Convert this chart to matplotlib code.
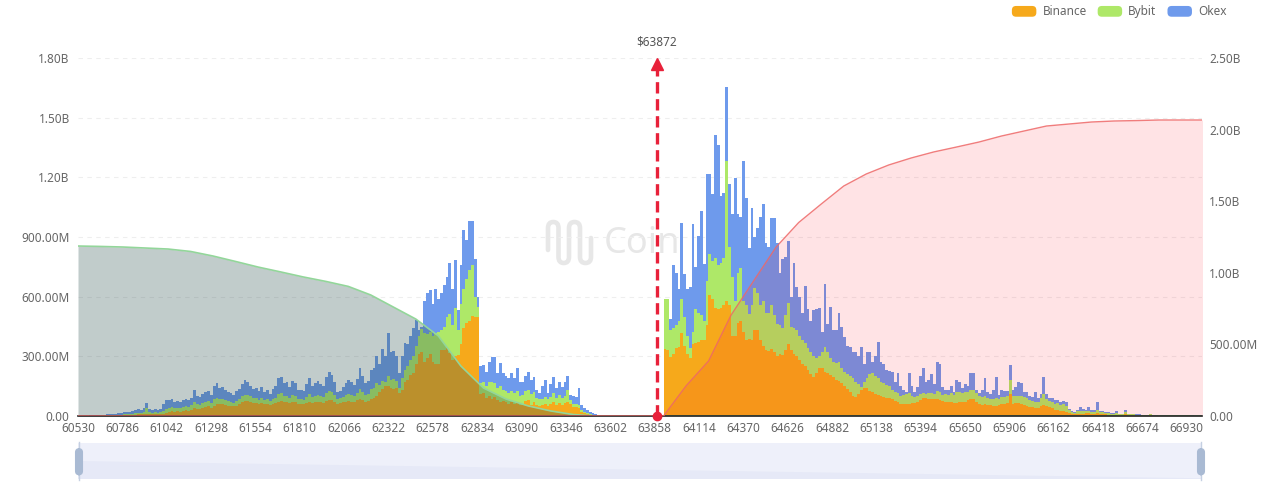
import numpy as np
import matplotlib
matplotlib.use("Agg")
import matplotlib.pyplot as plt
from matplotlib.patches import FancyBboxPatch, PathPatch, Rectangle
from matplotlib.path import Path
from matplotlib.legend_handler import HandlerPatch

plt.rcParams['font.family'] = ['Noto Sans', 'DejaVu Sans']

# Stack levels in millions (top of each colour)
left_binance = [
 0,0,0,0,0,1,1,1,1,1, 1,2,2,2,3,3,4,4,5,6, 7,8,8,9,12,9,9,10,10,10,
 12,16,20,24,22,24,22,26,28,26, 32,40,36,34,40,44,48,42,52,58,
 58,60,56,52,50,48,52,58,70,75, 75,72,66,66,60,66,60,62,56,60,
 64,72,76,70,70,64,72,70,62,60, 58,64,70,66,68,72,70,66,76,82,
 80,72,62,64,68,72,76,72,70,78, 85,78,72,74,85,90,100,120,135,150,
 150,140,135,140,115,130,170,180,205,215, 260,310,320,270,290,310,270,260,260,330,
 330,340,315,280,300,305,360,440,470,480, 505,500,500,
 110,115,90,100,85,95,80,70,75,70, 60,70,60,70,55,55,75,80,55,70,
 55,50,55,60,50,60,70,55,65,55, 65,70,60,45,45,40,20,15,8,4, 2,1]
left_bybit = [
 0,0,1,1,1,2,2,2,3,3, 3,4,5,5,6,7,8,9,10,12, 14,16,15,18,40,18,16,18,16,18,
 25,35,40,45,40,42,40,45,50,45, 55,70,60,55,65,70,75,65,85,90,
 85,85,80,75,70,65,75,85,100,105, 105,100,90,90,80,90,80,85,75,85,
 90,110,115,100,100,90,105,100,85,85, 80,95,110,95,100,105,100,95,115,125,
 120,105,85,90,95,105,110,105,100,115, 135,120,105,110,135,140,165,155,175,170,
 200,180,185,175,140,190,230,250,280,300, 350,400,435,415,410,420,400,415,420,430,
 450,500,515,460,545,430,565,640,690,735, 760,600,550,
 165,170,150,170,170,165,140,150,130,125, 115,125,115,125,100,105,125,130,110,120,
 90,85,85,95,85,95,115,90,105,90, 100,130,80,60,60,55,30,20,15,8, 5,2]
left_okex = [
 0,0,2,2,3,3,3,4,4,5, 8,8,10,12,14,16,18,20,22,25, 30,35,32,38,65,35,32,35,30,35,
 60,80,78,85,70,75,70,80,85,78, 90,130,100,95,110,120,125,105,150,165,
 140,145,130,120,115,105,125,135,160,180, 170,150,135,140,125,145,120,130,110,135,
 150,190,195,165,170,145,175,165,130,130, 125,160,190,150,165,175,160,150,195,220,
 205,170,120,125,145,165,180,170,155,185, 240,200,165,175,230,240,300,260,335,300,
 415,320,325,300,215,300,365,360,400,440, 485,430,450,580,620,635,565,640,590,620,
 660,700,770,640,785,535,760,935,885,980, 980,790,600,
 250,255,220,270,295,295,215,265,215,200, 190,215,190,240,170,170,200,220,180,195,
 130,115,150,180,115,160,195,140,170,145, 170,200,105,100,95,140,55,40,30,20, 15,8]

right_binance = [
 335,330,295,310,340,345,415,350,310,290, 360,365,370,380,380,460,610,590,545,540,
 545,560,580,560,400,400,470,480,420,380, 385,380,430,430,380,350,330,325,335,320,
 300,310,305,330,360,330,310,300,280,260, 250,230,210,195,215,240,240,220,215,205,
 195,180,175,165,150,135,120,100,95,110, 130,140,140,125,120,110,105,100,95,90,
 90,85,75,70,60,60,60,60,65,65, 70,80,90,90,85,85,85,85,80,75,
 70,70,70,65,65,70,70,70,80,85, 85,70,60,55,60,55,55,50,50,55,
 60,60,65,110,60,65,65,60,55,50, 45,45,40,40,50,55,50,45,40,30,
 30,25,25,20,15,10,8,10,12,12, 15,15,12,12,15,10,8,8,6,5,
 5,6,5,4,8,4,3,3,3,2, 2,2,1,3,1,1,1,1,1,1, 2,2,2,2,2,2,1,1,1,1,0,0]
right_bybit = [
 590,590,430,440,460,480,590,500,400,340, 420,540,520,510,480,680,815,780,795,760,
 770,795,1280,850,700,580,720,745,580,560, 515,560,645,620,560,580,520,520,560,510,
 465,460,440,510,570,450,440,430,400,380, 365,340,320,300,290,300,320,345,320,290,
 270,265,270,240,220,210,200,190,170,160, 145,170,190,210,215,200,190,170,165,155,
 150,130,120,115,100,105,110,115,100,95, 100,110,115,110,115,115,110,125,120,105,
 110,105,115,105,120,120,115,120,120,130, 130,115,100,95,100,90,85,85,90,85,
 95,95,100,180,100,100,100,100,95,90, 80,75,70,70,90,110,85,75,70,60,
 65,55,60,50,30,20,15,25,25,25, 25,25,22,22,30,20,18,15,14,12,
 12,15,10,8,20,10,8,8,7,6, 4,3,2,8,2,2,2,3,2,3, 4,4,4,4,4,4,3,3,2,2,1,1]
right_okex = [
 590,590,490,760,720,640,970,715,640,650, 965,750,905,1030,765,1215,1215,1115,1415,1365,
 1105,1120,1655,1165,1015,1195,1015,1000,1280,1095, 845,1045,900,945,1000,1065,870,850,995,995,
 870,720,790,800,880,600,770,650,600,520, 655,540,480,535,540,545,420,665,465,550,
 430,430,520,450,395,350,345,320,320,300, 345,260,320,320,270,300,370,270,260,230,
 225,220,170,215,150,130,120,215,150,120, 145,200,240,170,180,210,160,270,260,145,
 130,130,150,120,180,170,140,160,150,215, 215,130,115,130,190,120,110,130,195,105,
 130,125,125,255,130,145,170,165,120,120, 100,95,120,90,110,195,110,90,90,80,
 80,70,75,70,35,25,20,30,45,35, 30,45,30,30,70,25,25,20,18,15,
 15,25,12,10,30,12,10,12,10,8, 5,4,3,10,3,3,2,4,3,4, 5,5,6,6,5,5,4,4,3,2,1,1]

# Cumulative curves in millions, on a shared price grid
short_cum = [1187,1184,1180,1173,1166,1149,1117,1079,1040,1006,971,940,905,845,761,677,559,349,196,119,70,35,10,0,
             0,0,0,0,0,0,0,0,0,0,0,0,0,0,0,0,0,0,0,0,0,0,0,0,0,0,0]
long_cum = [0]*26 + [0,210,384,705,943,1180,1351,1480,1606,1690,1753,1802,1844,1878,1913,1955,1990,2025,2039,2053,2060,2063,2067,2067,2067]

start_price = 60530
tick_step = 256
tick_prices = [start_price + tick_step * k for k in range(26)]
current_price = 63872
left_ticks = [0, 300, 600, 900, 1200, 1500, 1800]
left_labels = ['0.00', '300.00M', '600.00M', '900.00M', '1.20B', '1.50B', '1.80B']
right_ticks = [0, 500, 1000, 1500, 2000, 2500]
right_labels = ['0.00', '500.00M', '1.00B', '1.50B', '2.00B', '2.50B']

ORANGE, GREEN, BLUE = '#F6A91B', '#AEE868', '#6E9AEC'
W, H = 1280, 484
BAR_STEP, CURVE_STEP = 16.2, 130
TXT = '#666666'
FS = 8.5

fig = plt.figure(figsize=(W / 100, H / 100), dpi=100, facecolor='white')
ax = fig.add_axes([78 / W, (H - 416) / H, 1124 / W, 358 / H])
ax.patch.set_visible(False)


def draw_stack(start, b, g, o):
    n = min(len(b), len(g), len(o))
    o = np.array(o[:n], float)
    g = np.minimum(np.array(g[:n], float), o)
    b = np.minimum(np.array(b[:n], float), g)
    x = start + BAR_STEP * np.arange(n)
    kw = dict(width=BAR_STEP, linewidth=0, align='edge', zorder=2)
    ax.bar(x, b, color=ORANGE, **kw)
    ax.bar(x, g - b, bottom=b, color=GREEN, **kw)
    ax.bar(x, o - g, bottom=g, color=BLUE, **kw)


draw_stack(start_price, left_binance, left_bybit, left_okex)
draw_stack(start_price + 26 * CURVE_STEP, right_binance, right_bybit, right_okex)

xmax = start_price + 1124 / (44.35 / tick_step)
ax.set_xlim(start_price, xmax)
ax.set_ylim(0, 1800)
ax.set_yticks(left_ticks, left_labels, color=TXT, fontsize=FS)
ax.set_xticks(tick_prices, [str(p) for p in tick_prices], color=TXT, fontsize=FS)
ax.tick_params(axis='both', length=0)
ax.tick_params(axis='y', pad=6)
ax.tick_params(axis='x', pad=4.5)
ax.grid(axis='y', color='#EEEEEE', linewidth=0.8, linestyle=(0, (4, 4)), zorder=0)
ax.set_axisbelow(True)
for s in ax.spines.values():
    s.set_visible(False)

ax2 = ax.twinx()
ax2.patch.set_visible(False)
grid_prices = start_price + CURVE_STEP * np.arange(len(short_cum))
ax2.fill_between(grid_prices, short_cum, 0, color=(52 / 255, 88 / 255, 85 / 255), alpha=0.3, linewidth=0, zorder=1.5)
ax2.fill_between(grid_prices, long_cum, 0, color=(1, 0, 20 / 255), alpha=0.11, linewidth=0, zorder=1.5)
ax2.plot(grid_prices, short_cum, color='#93D69A', linewidth=1.2, zorder=2)
ax2.plot(grid_prices, long_cum, color='#EE6666', linewidth=1.0, alpha=0.85, zorder=3)
ax2.set_xlim(start_price, xmax)
ax2.set_ylim(0, 2500)
ax2.set_yticks(right_ticks, right_labels, color=TXT, fontsize=FS)
ax2.tick_params(axis='y', length=0, pad=5)
for name, s in ax2.spines.items():
    s.set_visible(name == 'bottom')
ax2.spines['bottom'].set_color('#222222')
ax2.spines['bottom'].set_linewidth(1.2)

# current price marker
RED = '#E8213A'
ax2.plot([current_price, current_price], [0, 2420], color=RED, linewidth=2.4,
         linestyle=(0, (3.4, 1.7)), zorder=6)
ax2.plot([current_price], [2458], marker='^', markersize=8, color=RED, zorder=6, clip_on=False, linewidth=0)
ax2.plot([current_price], [0], marker='o', markersize=6, color=RED, zorder=7, clip_on=False, linewidth=0)
ax2.annotate(f'${current_price}', (current_price, 2500), xytext=(0, 6.5), textcoords='offset points',
             ha='center', va='bottom', color='#555555', fontsize=FS)


# legend with rounded swatches
class RoundHandler(HandlerPatch):
    def create_artists(self, legend, orig, xd, yd, w, h, fs, trans):
        p = FancyBboxPatch((2 - xd, 2 - yd), w - 4, h - 4,
                           boxstyle='round,pad=1.8,rounding_size=3',
                           facecolor=orig.get_facecolor(), linewidth=0, transform=trans)
        return [p]


handles = [Rectangle((0, 0), 1, 1, facecolor=c) for c in (ORANGE, GREEN, BLUE)]
fig.legend(handles, ['Binance', 'Bybit', 'Okex'], ncol=3, frameon=False,
           loc='upper right', bbox_to_anchor=(1229 / W, 1 - 3 / H), borderaxespad=0, borderpad=0.2,
           handler_map={Rectangle: RoundHandler()}, fontsize=FS, labelcolor=TXT,
           handlelength=2.12, handleheight=1.1, handletextpad=0.5, columnspacing=0.9)


# watermark behind the bars
WM = '#E7E7E7'
def px(x, y):
    return (x / W, 1 - y / H)


pillars = [548, 558.5, 569, 580, 591]
top_y, bot_y = 222, 263
verts_px = [(548, 250), (548, 228)]
codes = [Path.MOVETO, Path.LINETO]
for i in range(4):
    a, b = pillars[i], pillars[i + 1]
    mid = (a + b) / 2
    cap, inner = (top_y, 228) if i % 2 == 0 else (bot_y, 257)
    verts_px += [(a, cap), (mid, cap), (b, cap), (b, inner)]
    codes += [Path.CURVE3] * 4
    far = 257 if i % 2 == 0 else 228
    if i == 3:
        far = 238
    verts_px.append((b, far))
    codes.append(Path.LINETO)
wm = PathPatch(Path([px(*v) for v in verts_px], codes), transform=fig.transFigure, fill=False,
               edgecolor=WM, linewidth=3.3, capstyle='round', joinstyle='round', zorder=-1)
fig.add_artist(wm)
fig.text(604 / W, 1 - 244 / H, 'Coin', color=WM, fontsize=26, fontweight='bold', va='center', ha='left', zorder=-1)

# data zoom slider
sl = fig.add_axes([78 / W, (H - 479) / H, 1124 / W, 36 / H])
sl.set_xlim(0, 1)
sl.set_ylim(0, 1)
sl.axis('off')
sl.add_patch(Rectangle((0, 0), 1, 1, facecolor='#EEF0FA', edgecolor='none'))
sl.fill([0, 1, 1, 0], [0.5, 0.02, 0, 0], color='#E6E9F7', linewidth=0)
for hx in (1 / 1124, 1 - 1 / 1124):
    sl.plot([hx, hx], [-0.03, 1.03], color='#C5D0E2', linewidth=1, clip_on=False, zorder=3)
    sl.add_patch(FancyBboxPatch((hx - 3 / 1124, 0.13), 6 / 1124, 0.7,
                                boxstyle='round,pad=0,rounding_size=0.003', mutation_aspect=30,
                                facecolor='#A9BAD3', edgecolor='#A9BAD3', linewidth=1.5, clip_on=False, zorder=4))

fig.savefig('out.png', dpi=100)
